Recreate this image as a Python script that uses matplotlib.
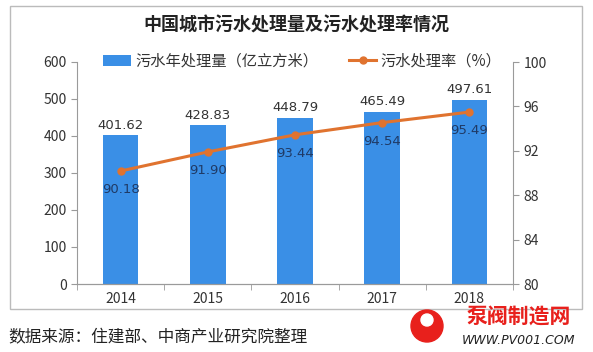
import matplotlib.pyplot as plt
import matplotlib.patches as mpatches
import numpy as np

plt.rcParams['font.family'] = ['Noto Sans CJK SC', 'DejaVu Sans']

years = ['2014', '2015', '2016', '2017', '2018']
volume = [401.62, 428.83, 448.79, 465.49, 497.61]
rate = [90.18, 91.90, 93.44, 94.54, 95.49]

bar_color = '#3a8fe6'
line_color = '#e0732f'
axis_color = '#9a9a9a'
text_color = '#333333'

fig = plt.figure(figsize=(5.93, 3.52), dpi=100)
ax = fig.add_axes([77/593, 1-284/352, 436/593, 222/352])
ax2 = ax.twinx()

x = np.arange(len(years))
ax.bar(x, volume, width=0.41, color=bar_color, zorder=2, label='污水年处理量（亿立方米）')
for xi, v in zip(x, volume):
    ax.text(xi, v + 10, f'{v:.2f}', ha='center', va='bottom', fontsize=9.5,
            color=text_color, family='DejaVu Sans')

ax2.plot(x, rate, color=line_color, lw=2.2, marker='o', ms=5, zorder=3,
         label='污水处理率（%）')
for xi, r in zip(x, rate):
    ax2.text(xi, r - 1.1, f'{r:.2f}', ha='center', va='top', fontsize=9.5,
             color='#1f3a66', family='DejaVu Sans')

ax.set_xlim(-0.5, 4.5)
ax.set_ylim(0, 600)
ax.set_yticks(range(0, 601, 100))
ax2.set_ylim(80, 100)
ax2.set_yticks(range(80, 101, 4))

ax.set_xticks(x)
ax.set_xticklabels(years)
ax.set_xticks(np.arange(-0.5, 5, 1), minor=True)
ax.tick_params(axis='x', which='major', length=0, pad=6)
ax.tick_params(axis='x', which='minor', length=4, color=axis_color, direction='out')

for a in (ax, ax2):
    for s in a.spines.values():
        s.set_color(axis_color)
    a.spines['top'].set_visible(False)
    a.tick_params(axis='y', length=4, color=axis_color, labelsize=10,
                  labelcolor=text_color)
    a.tick_params(axis='x', labelsize=10, labelcolor=text_color)
ax.spines['right'].set_visible(False)
ax2.spines['left'].set_visible(False)

fig.text(0.5, 1-25/352, '中国城市污水处理量及污水处理率情况', ha='center', va='center',
         fontsize=13, fontweight='bold', color='#222222')

h1, l1 = ax.get_legend_handles_labels()
h2, l2 = ax2.get_legend_handles_labels()
fig.legend(h1 + h2, l1 + l2, loc='center', bbox_to_anchor=(0.51, 1-61/352), ncol=2,
           frameon=False, fontsize=11, handlelength=1.8, columnspacing=2.0,
           handletextpad=0.3, labelcolor=text_color)

frame = mpatches.Rectangle((10/593, 1-309/352), 572/593, 303/352,
                           transform=fig.transFigure, fill=False,
                           edgecolor='#bbbbbb', lw=1)
fig.patches.append(frame)

fig.text(8/593, 1-338/352, '数据来源：住建部、中商产业研究院整理', ha='left', va='center',
         fontsize=12, color='#222222')

# logo
logo = mpatches.Ellipse((427/593, 1-326/352), 32/593, 32/352, transform=fig.transFigure,
                        color='#e8201c')
fig.patches.append(logo)
hole = mpatches.Ellipse((427/593, 1-320/352), 12/593, 12/352, transform=fig.transFigure,
                        color='white')
fig.patches.append(hole)
fig.text(519/593, 1-317/352, '泵阀制造网', ha='center', va='center', fontsize=15,
         fontweight='bold', color='#e8201c')
fig.text(519/593, 1-341/352, 'WWW.PV001.COM', ha='center', va='center', fontsize=9,
         style='italic', color='#222222', family='DejaVu Sans')

fig.savefig('out.png', dpi=100)
